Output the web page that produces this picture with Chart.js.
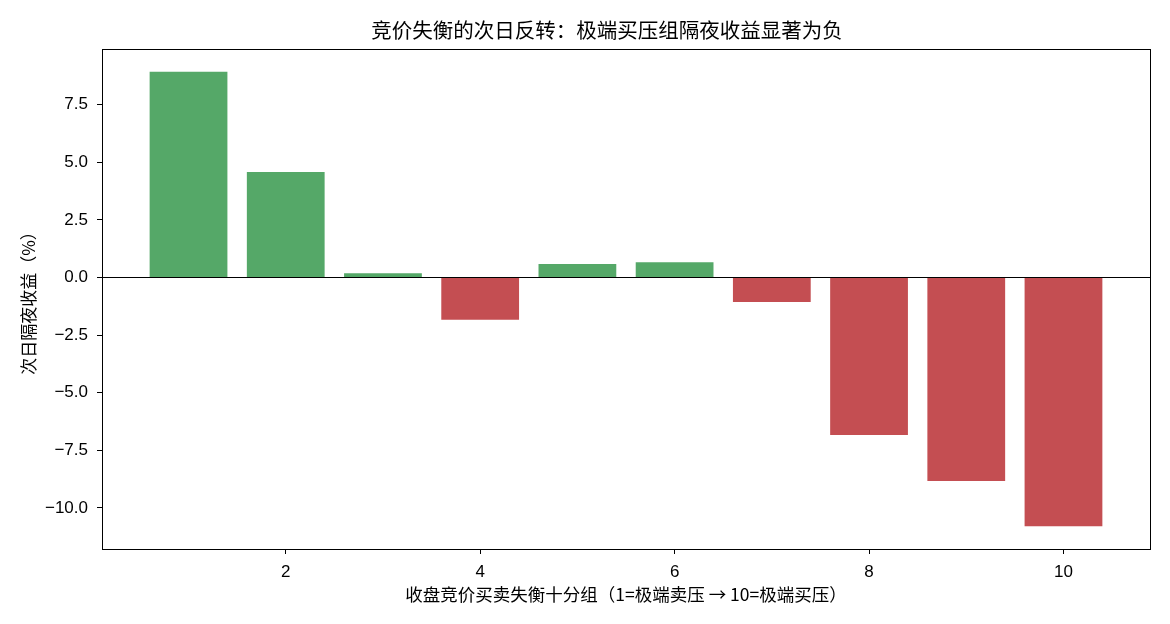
<!DOCTYPE html>
<html><head><meta charset="utf-8">
<script src="https://cdn.jsdelivr.net/npm/chart.js@4/dist/chart.umd.min.js"></script>
<style>html,body{margin:0;padding:0;background:#fff}#wrap{width:1170px;height:624px}</style>
</head><body><div id="wrap"><canvas id="c" width="1170" height="624"></canvas></div>
<script>
const groups = [1, 2, 3, 4, 5, 6, 7, 8, 9, 10];
const overnightReturn = [8.93, 4.58, 0.18, -1.84, 0.58, 0.66, -1.06, -6.84, -8.84, -10.80];
const xTicks = [2, 4, 6, 8, 10];
const yTicks = [-10, -7.5, -5, -2.5, 0, 2.5, 5, 7.5];
const titleText = '竞价失衡的次日反转：极端买压组隔夜收益显著为负';
const xLabel = '收盘竞价买卖失衡十分组（1=极端卖压 → 10=极端买压）';
const yLabel = '次日隔夜收益（%）';

const GREEN = '#55a868', RED = '#c44e52';
const TICKFONT = '"Liberation Sans", "Noto Sans CJK SC", sans-serif';
const CJKFONT = '"Noto Sans CJK SC", "Liberation Sans", sans-serif';

// matplotlib-like 5% margins
const barW = 0.8;
const xLo = groups[0] - barW / 2, xHi = groups[groups.length - 1] + barW / 2;
const xMin = xLo - 0.05 * (xHi - xLo), xMax = xHi + 0.05 * (xHi - xLo);
const yLo = Math.min(0, ...overnightReturn), yHi = Math.max(0, ...overnightReturn);
const yMin = yLo - 0.05 * (yHi - yLo), yMax = yHi + 0.05 * (yHi - yLo);

const framePlugin = {
  id: 'frame',
  afterDatasetsDraw(chart) {
    const {ctx, chartArea: a, scales} = chart;
    ctx.save();
    ctx.strokeStyle = '#000';
    ctx.lineWidth = 1;
    const y0 = Math.round(scales.y.getPixelForValue(0)) + 0.5;
    ctx.beginPath(); ctx.moveTo(a.left, y0); ctx.lineTo(a.right, y0); ctx.stroke();
    ctx.strokeRect(Math.round(a.left) + 0.5, Math.round(a.top) + 0.5,
      Math.round(a.right) - Math.round(a.left), Math.round(a.bottom) - Math.round(a.top));
    ctx.restore();
  },
  afterDraw(chart) {
    const {ctx} = chart;
    ctx.save();
    ctx.fillStyle = '#000';
    ctx.font = '20.5px ' + CJKFONT;
    ctx.textAlign = 'center';
    ctx.textBaseline = 'middle';
    ctx.fillText(titleText, 607, 30);
    ctx.restore();
  }
};

new Chart(document.getElementById('c'), {
  type: 'bar',
  data: {
    datasets: [{
      data: groups.map((g, i) => ({x: g, y: overnightReturn[i]})),
      backgroundColor: overnightReturn.map(v => v >= 0 ? GREEN : RED),
      borderWidth: 0,
      barPercentage: barW,
      categoryPercentage: 1.0
    }]
  },
  plugins: [framePlugin],
  options: {
    responsive: false,
    animation: false,
    layout: {padding: {top: 49, right: 20, left: 0, bottom: 0}},
    plugins: {legend: {display: false}, title: {display: false}, tooltip: {enabled: false}},
    scales: {
      x: {
        type: 'linear', min: xMin, max: xMax, offset: false,
        afterBuildTicks: s => { s.ticks = xTicks.map(v => ({value: v})); },
        afterFit: s => { s.height = 75; },
        border: {display: false},
        grid: {display: true, drawOnChartArea: false, drawTicks: true, tickLength: 5, color: '#000', offset: false},
        ticks: {color: '#000', font: {family: TICKFONT, size: 17}, padding: 8, maxRotation: 0, autoSkip: false,
          callback: v => String(v)},
        title: {display: true, text: xLabel, color: '#000', font: {family: CJKFONT, size: 17.5}, padding: {top: 0, bottom: 19}}
      },
      y: {
        type: 'linear', min: yMin, max: yMax,
        afterBuildTicks: s => { s.ticks = yTicks.map(v => ({value: v})); },
        afterFit: s => { s.width = 102; },
        border: {display: false},
        grid: {display: true, drawOnChartArea: false, drawTicks: true, tickLength: 5, color: '#000'},
        ticks: {color: '#000', font: {family: TICKFONT, size: 17}, padding: 9,
          callback: v => v.toFixed(1).replace('-', '\u2212')},
        title: {display: true, text: yLabel, color: '#000', font: {family: CJKFONT, size: 17}, padding: {top: 18, bottom: 0}}
      }
    }
  }
});
</script></body></html>
